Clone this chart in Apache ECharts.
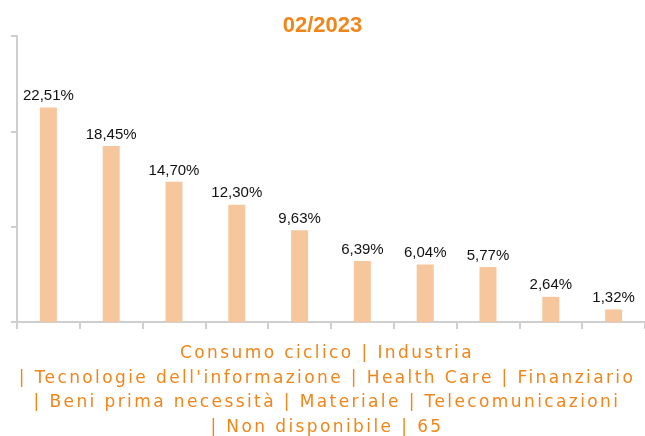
<!DOCTYPE html>
<html>
<head>
<meta charset="utf-8">
<script src="https://cdn.jsdelivr.net/npm/echarts@6/dist/echarts.min.js"></script>
<style>
  html, body { margin: 0; padding: 0; background: #fff; }
  .wrap { position: relative; width: 645px; height: 436px; }
  #chart { width: 645px; height: 436px; }
  .cats {
    position: absolute;
    left: 0;
    top: 340px;
    width: 654px;
    text-align: center;
    font: 17px "DejaVu Sans", sans-serif;
    line-height: 24.5px;
    letter-spacing: 2.4px;
    color: #F08519;
    white-space: pre;
  }
</style>
</head>
<body>
<div class="wrap">
  <div id="chart"></div>
  <div class="cats" id="cats"></div>
</div>
<script>
// data
let categories = ['Consumo ciclico', 'Industria', "Tecnologie dell'informazione", 'Health Care', 'Finanziario',
  'Beni prima necessità', 'Materiale', 'Telecomunicazioni', 'Non disponibile', '65']
let values = [22.51, 18.45, 14.70, 12.30, 9.63, 6.39, 6.04, 5.77, 2.64, 1.32]
let yTicks = [0, 10, 20, 30]
let titleText = '02/2023'

// category list under the axis, broken where the reference breaks it
let lineGroups = [[0, 2], [2, 5], [5, 8], [8, 10]]
let bottomText = lineGroups.map((g, i) => (i ? '| ' : '') + categories.slice(g[0], g[1]).join(' | ')).join('\n')
document.getElementById('cats').textContent = bottomText

let orange = '#F08519'
let axisColor = '#cfcfcf'

let chart = echarts.init(document.getElementById('chart'))
chart.setOption({
  animation: false,
  title: {
    text: titleText,
    left: 'center',
    top: 10,
    textStyle: { color: orange, fontSize: 22, fontWeight: 'bold', fontFamily: 'Liberation Sans' }
  },
  grid: { left: 17, top: 36, width: 630, bottom: 114, containLabel: false },
  xAxis: {
    type: 'category',
    data: categories,
    axisLine: { lineStyle: { color: axisColor, width: 2 } },
    axisTick: { show: true, interval: 0, length: 7, lineStyle: { color: axisColor, width: 2 } },
    axisLabel: { show: false }
  },
  yAxis: {
    type: 'value',
    min: yTicks[0],
    max: yTicks[yTicks.length - 1],
    interval: 10,
    axisLine: { show: true, lineStyle: { color: axisColor, width: 2 } },
    axisTick: { show: true, length: 6, lineStyle: { color: axisColor, width: 2 } },
    axisLabel: { show: false },
    splitLine: { show: false }
  },
  series: [{
    type: 'bar',
    data: values,
    barWidth: 17,
    itemStyle: { color: '#F6C79D' },
    label: {
      show: true,
      position: 'top',
      distance: 4,
      color: '#111',
      fontSize: 15,
      fontFamily: 'Liberation Sans',
      formatter: p => p.value.toFixed(2).replace('.', ',') + '%'
    }
  }]
})
</script>
</body>
</html>
